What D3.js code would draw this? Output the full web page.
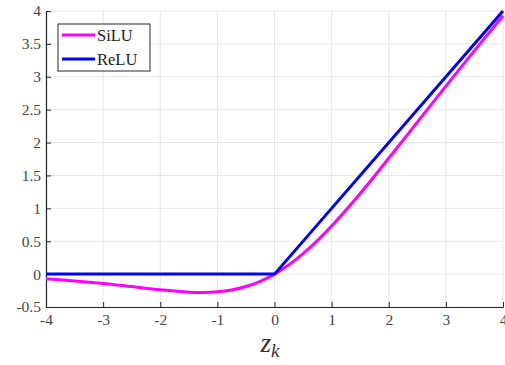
<!DOCTYPE html>
<html>
<head>
<meta charset="utf-8">
<script src="https://cdn.jsdelivr.net/npm/d3@7"></script>
<style>
  body { margin: 0; background: #fff; }
  svg { display: block; }
</style>
</head>
<body>
<div id="chart"></div>
<script>
// values
var zVals    = [-4, -3.5, -3, -2.5, -2, -1.5, -1.25, -1, -0.75, -0.5, -0.25, 0, 0.25, 0.5, 0.75, 1, 1.5, 2, 2.5, 3, 3.5, 4];
var siluVals = [-0.072, -0.103, -0.142, -0.19, -0.238, -0.274, -0.279, -0.269, -0.241, -0.189, -0.11, 0, 0.14, 0.311, 0.509, 0.731, 1.226, 1.762, 2.31, 2.858, 3.398, 3.928];
var reluZ    = [-4, 0, 4];
var reluVals = [0, 0, 4];
var xTicks = [-4, -3, -2, -1, 0, 1, 2, 3, 4];
var yTicks = [-0.5, 0, 0.5, 1, 1.5, 2, 2.5, 3, 3.5, 4];
var seriesNames = ["SiLU", "ReLU"];
var seriesColors = ["#ff00ff", "#0000ff"];

var W = 505, H = 365;
var margin = {left: 46, right: 2, top: 11, bottom: 58};
var width = W - margin.left - margin.right,
    height = H - margin.top - margin.bottom;
var serif = "Liberation Serif";

var svg = d3.select("#chart").append("svg")
    .attr("width", W).attr("height", H);
var g = svg.append("g")
    .attr("transform", "translate(" + margin.left + "," + margin.top + ")");

var x = d3.scaleLinear().domain([-4, 4]).range([0, width]);
var y = d3.scaleLinear().domain([-0.5, 4]).range([height, 0]);

// grid
g.append("g").selectAll("line").data(xTicks).enter().append("line")
    .attr("x1", function(d) { return x(d); }).attr("x2", function(d) { return x(d); })
    .attr("y1", 0).attr("y2", height)
    .attr("stroke", "#e6e6e6").attr("stroke-width", 1);
g.append("g").selectAll("line").data(yTicks).enter().append("line")
    .attr("y1", function(d) { return y(d); }).attr("y2", function(d) { return y(d); })
    .attr("x1", 0).attr("x2", width)
    .attr("stroke", "#e6e6e6").attr("stroke-width", 1);

// axes
var gx = g.append("g").attr("transform", "translate(0," + height + ")")
    .call(d3.axisBottom(x).tickValues(xTicks).tickSizeInner(-5).tickSizeOuter(0)
      .tickFormat(function(d) { return String(d); }));
var gy = g.append("g")
    .call(d3.axisLeft(y).tickValues(yTicks).tickSizeInner(-5).tickSizeOuter(0)
      .tickFormat(function(d) { return String(d); }));

gx.selectAll(".tick text").attr("y", 11).attr("dy", "0.45em");
gy.selectAll(".tick text").attr("x", -5);
[gx, gy].forEach(function(a) {
  a.select(".domain").attr("stroke", "#262626").attr("stroke-width", 1.2);
  a.selectAll(".tick line").attr("stroke", "#262626");
  a.selectAll(".tick text")
      .style("font-size", "15.5px")
      .style("font-family", serif)
      .style("fill", "#444");
});

// lines
var line = d3.line()
    .x(function(d) { return x(d[0]); })
    .y(function(d) { return y(d[1]); });

g.append("path")
    .attr("d", line.curve(d3.curveCatmullRom)(d3.zip(zVals, siluVals)))
    .attr("fill", "none").attr("stroke", seriesColors[0]).attr("stroke-width", 3);

g.append("path")
    .attr("d", line.curve(d3.curveLinear)(d3.zip(reluZ, reluVals)))
    .attr("fill", "none").attr("stroke", seriesColors[1]).attr("stroke-width", 3);

// legend
var lg = svg.append("g").attr("transform", "translate(58,24)");
lg.append("rect").attr("width", 92).attr("height", 47)
    .attr("fill", "#fff").attr("stroke", "#262626").attr("stroke-width", 1);
seriesNames.forEach(function(n, i) {
  var yy = 11 + i * 24;
  lg.append("line").attr("x1", 4).attr("x2", 37).attr("y1", yy).attr("y2", yy)
      .attr("stroke", seriesColors[i]).attr("stroke-width", 3);
  lg.append("text").attr("x", 39).attr("y", yy).attr("dy", "0.35em")
      .style("font-size", "16.5px").style("font-family", serif)
      .style("fill", "#222").text(n);
});

// x label
svg.append("text")
    .attr("x", margin.left + x(0) - 14).attr("y", 352)
    .style("font-size", "27px").style("font-style", "italic")
    .style("font-family", serif).style("fill", "#333")
    .text("z")
  .append("tspan").attr("dy", 5).style("font-size", "19px").text("k");
</script>
</body>
</html>
